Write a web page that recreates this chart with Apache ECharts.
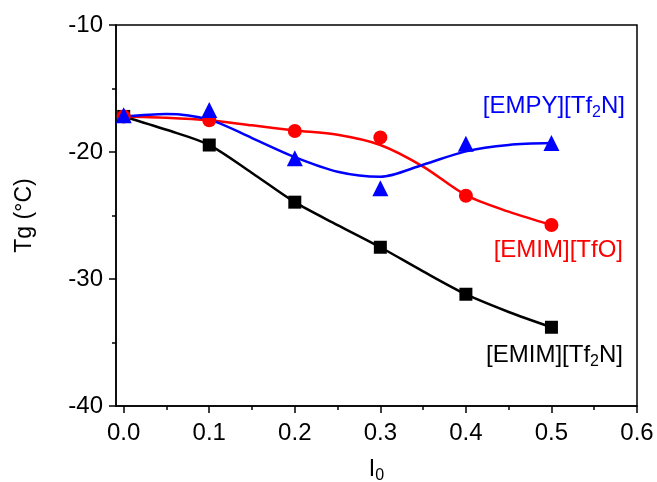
<!DOCTYPE html>
<html>
<head>
<meta charset="utf-8">
<script src="https://cdn.jsdelivr.net/npm/echarts@6/dist/echarts.min.js"></script>
<style>
  html, body { margin: 0; padding: 0; background: #fff; }
  #chart { width: 657px; height: 482px; }
</style>
</head>
<body>
<div id="chart"></div>
<script>
// measured points
const xPts = [0, 0.1, 0.2, 0.3, 0.4, 0.5];
const emimTf2n = [-17.2, -19.45, -23.95, -27.5, -31.2, -33.8];
const emimTfo = [-17.2, -17.5, -18.35, -18.85, -23.45, -25.75];
const empyTf2n = [-17.1, -16.7, -20.5, -22.85, -19.35, -19.3];

// fitted curves
const xFit = [0, 0.05, 0.1, 0.15, 0.2, 0.25, 0.3, 0.35, 0.4, 0.45, 0.5];
const fitEmimTf2n = [-17.2, -18.25, -19.45, -21.65, -23.95, -25.75, -27.5, -29.4, -31.2, -32.6, -33.8];
const fitEmimTfo = [-17.2, -17.3, -17.5, -17.9, -18.3, -18.65, -19.45, -21.15, -23.4, -24.7, -25.75];
const fitEmpyTf2n = [-17.2, -17.0, -17.45, -18.9, -20.4, -21.55, -21.95, -21.0, -19.95, -19.45, -19.3];

const xMajor = [0, 0.1, 0.2, 0.3, 0.4, 0.5, 0.6];
const xMinor = [0.05, 0.15, 0.25, 0.35, 0.45, 0.55];

const zip = (xs, ys) => xs.map((x, i) => [x, ys[i]]);
const font = 'Liberation Sans, Arial, sans-serif';

const chart = echarts.init(document.getElementById('chart'));

function fit(data, color) {
  return {
    type: 'line', data: zip(xFit, data), smooth: 0.3, symbol: 'none',
    lineStyle: { color: color, width: 2.5 }, z: 2, silent: true
  };
}
function pts(data, color, symbol, size) {
  return {
    type: 'scatter', data: zip(xPts, data), symbol: symbol, symbolSize: size,
    itemStyle: { color: color, opacity: 1 }, z: 3
  };
}

chart.setOption({
  animation: false,
  grid: { left: 116, right: 20, top: 25, bottom: 76, outerBoundsMode: 'none', show: true, borderColor: '#000', borderWidth: 1.5 },
  xAxis: [{
    type: 'value', min: -0.009, max: 0.6,
    name: '{i|I}{s|0}', nameLocation: 'middle', nameGap: 50,
    nameTextStyle: { rich: { i: { fontSize: 23, fontFamily: font, color: '#000' }, s: { fontSize: 16, fontFamily: font, color: '#000', verticalAlign: 'bottom', padding: [12, 0, 0, 0] } } },
    axisLine: { onZero: false, lineStyle: { color: '#000', width: 1.5 } },
    axisTick: { customValues: xMajor, length: 7, inside: false, lineStyle: { color: '#000', width: 1.5 } },
    axisLabel: { customValues: xMajor, formatter: v => v.toFixed(1), fontSize: 24, fontFamily: font, color: '#000', margin: 15 },
    splitLine: { show: false }
  }, {
    type: 'value', min: -0.009, max: 0.6, position: 'bottom',
    axisLine: { show: false },
    axisTick: { customValues: xMinor, length: 4, lineStyle: { color: '#000', width: 1.5 } },
    axisLabel: { show: false },
    splitLine: { show: false }
  }],
  yAxis: {
    type: 'value', min: -40, max: -10, interval: 10,
    name: 'Tg (°C)', nameLocation: 'middle', nameGap: 80,
    nameTextStyle: { fontSize: 23, fontFamily: font, color: '#000' },
    axisLine: { show: true, onZero: false, lineStyle: { color: '#000', width: 1.5 } },
    axisTick: { show: true, length: 7, lineStyle: { color: '#000', width: 1.5 } },
    minorTick: { show: true, splitNumber: 2, length: 4, lineStyle: { color: '#000', width: 1.5 } },
    axisLabel: { fontSize: 24, fontFamily: font, color: '#000', margin: 13 },
    splitLine: { show: false }
  },
  series: [
    fit(fitEmimTf2n, '#000000'),
    fit(fitEmimTfo, '#ff0000'),
    fit(fitEmpyTf2n, '#0000ff'),
    pts(emimTf2n, '#000000', 'rect', 13),
    pts(emimTfo, '#ff0000', 'circle', 14),
    pts(empyTf2n, '#0000ff', 'triangle', 16)
  ],
  graphic: [
    { type: 'text', right: 32, top: 94, style: { text: '{a|[EMPY][Tf}{s|2}{a|N]}', rich: { a: { fontSize: 24, fontFamily: font, fill: '#0000ff' }, s: { fontSize: 16, fontFamily: font, fill: '#0000ff', padding: [14, 0, 0, 0] } } } },
    { type: 'text', right: 34, top: 238, style: { text: '[EMIM][TfO]', fontSize: 24, fontFamily: font, fill: '#ff0000' } },
    { type: 'text', right: 34, top: 343, style: { text: '{a|[EMIM][Tf}{s|2}{a|N]}', rich: { a: { fontSize: 24, fontFamily: font, fill: '#000' }, s: { fontSize: 16, fontFamily: font, fill: '#000', padding: [14, 0, 0, 0] } } } }
  ]
});
</script>
</body>
</html>
